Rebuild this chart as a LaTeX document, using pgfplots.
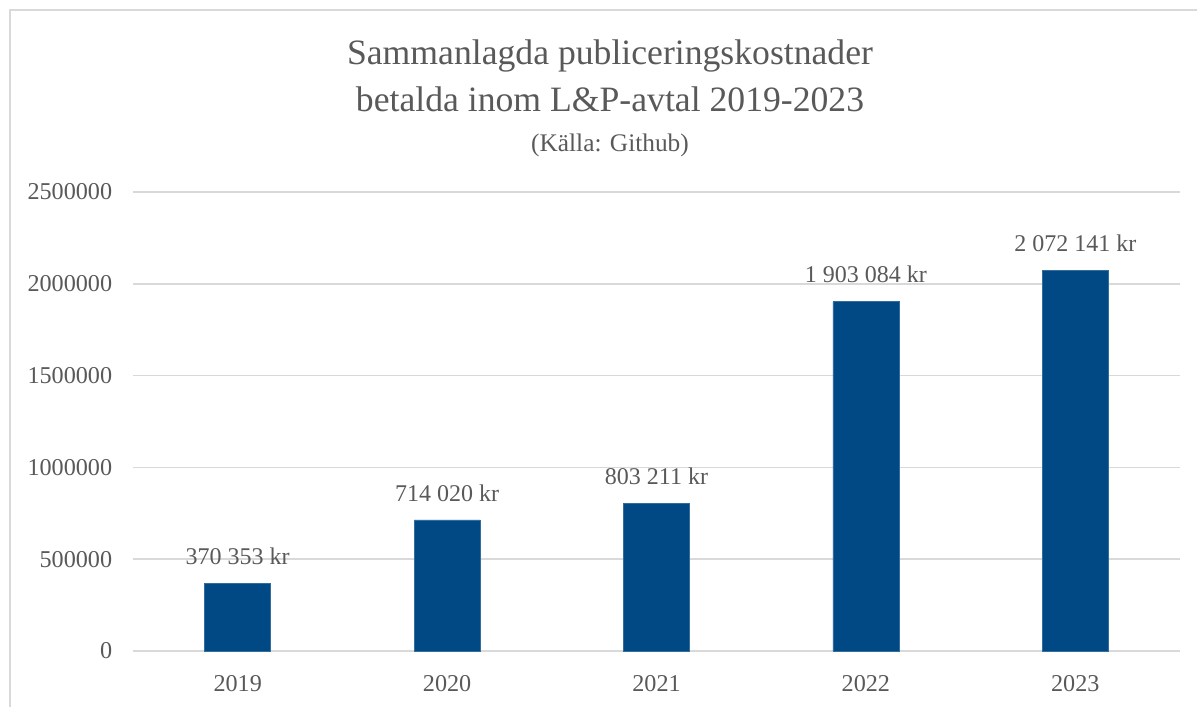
\documentclass[border=0pt]{standalone}
\usepackage{fontspec}
\setmainfont{Liberation Serif}
\usepackage{pgfplots}
\pgfplotsset{compat=1.18}
\definecolor{txt}{HTML}{595959}
\definecolor{grd}{HTML}{D9D9D9}
\definecolor{bar}{RGB}{0,73,133}
\begin{document}
\begin{tikzpicture}
\path[use as bounding box] (0,0) rectangle (718.2pt,424.2pt);
\draw[grd, line width=0.9pt] (6pt,0) -- (6pt,418.2pt) -- (718.2pt,418.2pt);
\node[anchor=base, text=txt, font=\fontsize{21.4}{26}\selectfont] at (366pt,385.2pt) {Sammanlagda publiceringskostnader};
\node[anchor=base, text=txt, font=\fontsize{21.4}{26}\selectfont] at (366pt,357pt) {betalda inom L\&P-avtal 2019-2023};
\node[anchor=base, text=txt, font=\fontsize{15.2}{18}\selectfont] at (366pt,333.5pt) {(Källa: Github)};
\begin{axis}[
  at={(79.8pt,33.6pt)}, anchor=south west,
  scale only axis, width=628.2pt, height=275.4pt,
  xmin=-0.5, xmax=4.5, ymin=0, ymax=2500000,
  scaled y ticks=false,
  axis line style={draw=none},
  major tick length=0pt,
  xtick={0,1,2,3,4}, xticklabels={2019,2020,2021,2022,2023},
  ytick={0,500000,1000000,1500000,2000000,2500000},
  yticklabels={0,500000,1000000,1500000,2000000,2500000},
  ymajorgrids, grid style={grd, line width=0.9pt},
  ticklabel style={text=txt, font=\fontsize{14.5}{17}\selectfont},
  yticklabel style={xshift=-9pt},
  xticklabel style={yshift=-11pt},
  ybar, bar width=39.6pt,
  point meta=explicit symbolic,
  nodes near coords,
  nodes near coords style={text=txt, font=\fontsize{14.4}{17}\selectfont, yshift=7.5pt},
  clip=false,
]
\addplot[fill=bar, draw=bar!80!white, line width=0.4pt] coordinates {
  (0,370353) [370 353 kr]
  (1,714020) [714 020 kr]
  (2,803211) [803 211 kr]
  (3,1903084) [1 903 084 kr]
  (4,2072141) [2 072 141 kr]
};
\end{axis}
\end{tikzpicture}
\end{document}
